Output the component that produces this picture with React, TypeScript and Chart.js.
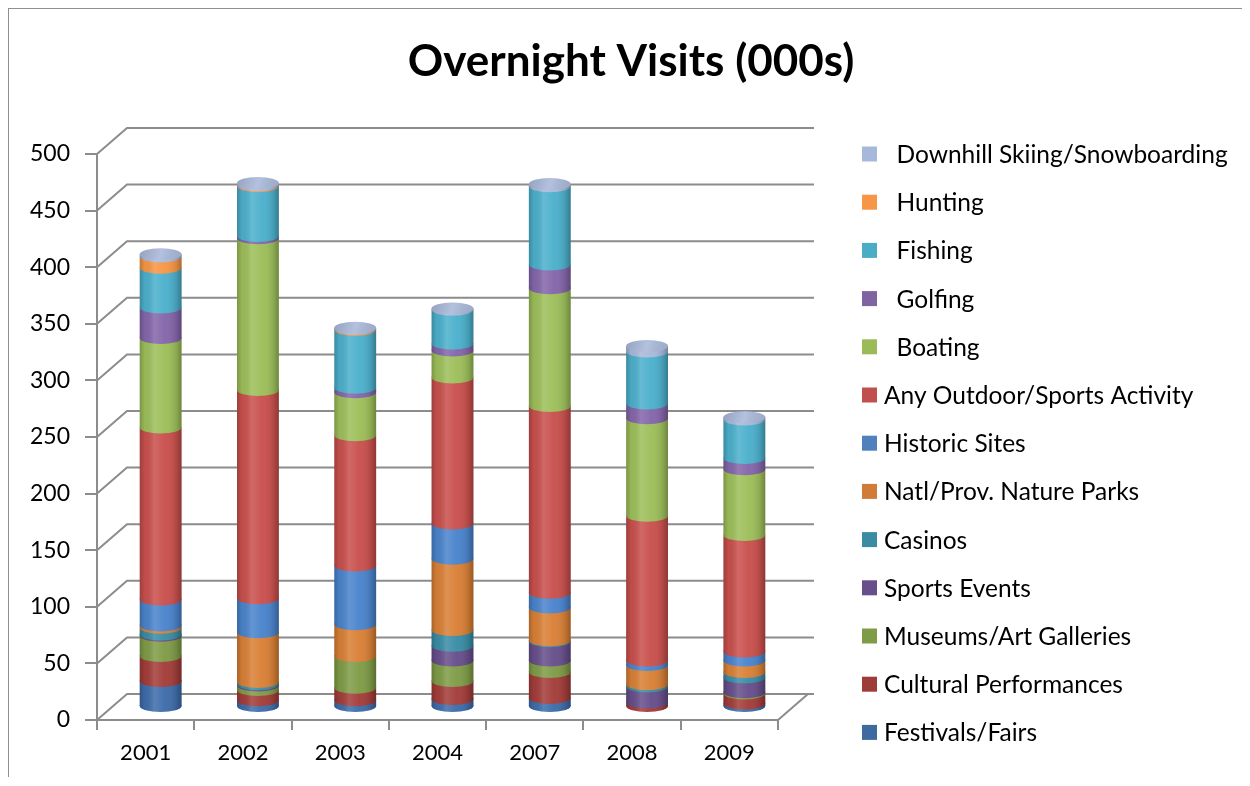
import React, { useEffect, useRef } from 'react';
import { Chart, registerables } from 'chart.js';

Chart.register(...registerables);

// ---------- data (thousands of overnight visits) ----------
const years = ['2001', '2002', '2003', '2004', '2007', '2008', '2009'];

const festivalsFairs = [23, 6, 6, 7, 8, 0, 3];
const culturalPerformances = [22, 9, 11, 16, 23, 4, 9];
const museumsArtGalleries = [18, 4, 28, 18, 10, 0, 1];
const sportsEvents = [1, 1, 0, 13, 17, 14, 13];
const casinos = [6, 2, 0, 14, 1, 2, 5];
const natureParks = [2, 44, 28, 63, 29, 17, 10];
const historicSites = [23, 30, 52, 31, 13, 4, 8];
const anyOutdoor = [152, 184, 115, 129, 165, 128, 103];
const boating = [79, 134, 38, 24, 104, 86, 58];
const golfing = [27, 2, 4, 6, 21, 13, 10];
const fishing = [35, 44, 51, 30, 69, 46, 34];
const hunting = [10, 1, 1, 0, 0, 0, 0];
const downhillSkiing = [2, 2, 1, 1, 2, 5, 2];

const seriesLabels = [
  'Festivals/Fairs',
  'Cultural Performances',
  'Museums/Art Galleries',
  'Sports Events',
  'Casinos',
  'Natl/Prov. Nature Parks',
  'Historic Sites',
  'Any Outdoor/Sports Activity',
  'Boating',
  'Golfing',
  'Fishing',
  'Hunting',
  'Downhill Skiing/Snowboarding',
];
const seriesValues = [
  festivalsFairs, culturalPerformances, museumsArtGalleries, sportsEvents, casinos,
  natureParks, historicSites, anyOutdoor, boating, golfing, fishing, hunting, downhillSkiing,
];
const seriesColors = [
  '#3E6DAA', '#A33D3A', '#7F9C47', '#674F8B', '#3A8DA5', '#D98036', '#4A84CC',
  '#C9504D', '#9DBF5A', '#8466AA', '#4CB0CC', '#F79646', '#A9B9DA',
];
const legendColors = [
  '#3D6A9F', '#9E3C3A', '#7E9B48', '#664F8A', '#3B8CA3', '#D17B38', '#4F81BD',
  '#C0504D', '#9BBB59', '#8064A2', '#4BACC6', '#F79646', '#A7B9DB',
];
const indentedSeries = [8, 9, 10, 11, 12];

const yTickStep = 50;
const yMax = 500;
const titleText = 'Overnight Visits (000s)';

// ---------- layout constants ----------
const FONT = 'Lato';
const CANVAS_W = 1233;
const CANVAS_H = 768;
const GRID = '#8C8C8C';
const DX = 30;
const DY = 26;
const AREA_RIGHT = 769;
const AREA_LEFT = 88;
const PAD_LEFT = 11;
const LEGEND_FONT = 24.5;
const LEGEND_ROW = 48.2;
const SWATCH = 15;
const SWATCH_OFFSET = 84;
const TEXT_OFFSET = 106;
const TEXT_INDENT = 12.5;

const depthPlugin = {
  id: 'depth3d',
  beforeDatasetsDraw(chart: any) {
    const { ctx, chartArea, scales } = chart;
    const ys = scales.y;
    ctx.save();
    ctx.strokeStyle = GRID;
    ctx.lineWidth = 2;
    ctx.beginPath();
    ys.ticks.forEach((t: any) => {
      const py = ys.getPixelForValue(t.value);
      ctx.moveTo(chartArea.left, py);
      ctx.lineTo(chartArea.left + DX, py - DY);
      ctx.lineTo(chartArea.right + DX + 6, py - DY);
    });
    const p0 = ys.getPixelForValue(0);
    ctx.moveTo(chartArea.right, p0);
    ctx.lineTo(chartArea.right + DX, p0 - DY);
    ctx.stroke();
    ctx.restore();
    ctx.save();
    ctx.translate(DX / 2, -DY / 2);
  },
  afterDatasetsDraw(chart: any) {
    const { ctx } = chart;
    const n = chart.data.labels.length;
    const ry = 6;
    for (let i = 0; i < n; i++) {
      const segs: any[] = [];
      chart.data.datasets.forEach((ds: any, di: number) => {
        const v = ds.data[i];
        if (v > 0) {
          const el = chart.getDatasetMeta(di).data[i];
          const p = el.getProps(['x', 'y', 'base', 'width'], true);
          segs.push({ ...p, color: seriesColors[di] });
        }
      });
      if (!segs.length) continue;
      const x = segs[0].x;
      const rx = segs[0].width / 2;
      const base = segs[0].base;
      const top = segs[segs.length - 1].y;
      segs.forEach((s) => {
        ctx.beginPath();
        ctx.moveTo(x - rx, s.base - 1);
        ctx.lineTo(x + rx, s.base - 1);
        ctx.lineTo(x + rx, s.base);
        ctx.ellipse(x, s.base, rx, ry, 0, 0, Math.PI);
        ctx.closePath();
        ctx.fillStyle = s.color;
        ctx.fill();
      });
      ctx.beginPath();
      ctx.moveTo(x - rx, top);
      ctx.lineTo(x - rx, base);
      ctx.ellipse(x, base, rx, ry, 0, Math.PI, 0, true);
      ctx.lineTo(x + rx, top);
      ctx.closePath();
      const g = ctx.createLinearGradient(x - rx, 0, x + rx, 0);
      g.addColorStop(0, 'rgba(0,0,0,0.22)');
      g.addColorStop(0.12, 'rgba(0,0,0,0.04)');
      g.addColorStop(0.35, 'rgba(255,255,255,0.14)');
      g.addColorStop(0.6, 'rgba(255,255,255,0.03)');
      g.addColorStop(0.88, 'rgba(0,0,0,0.12)');
      g.addColorStop(1, 'rgba(0,0,0,0.3)');
      ctx.fillStyle = g;
      ctx.fill();
      ctx.beginPath();
      ctx.ellipse(x, top, rx, ry, 0, 0, Math.PI * 2);
      ctx.fillStyle = segs[segs.length - 1].color;
      ctx.fill();
      const cg = ctx.createLinearGradient(x - rx, top - ry, x + rx, top + ry);
      cg.addColorStop(0, 'rgba(0,0,0,0.12)');
      cg.addColorStop(0.5, 'rgba(255,255,255,0.12)');
      cg.addColorStop(1, 'rgba(0,0,0,0.08)');
      ctx.fillStyle = cg;
      ctx.fill();
    }
    ctx.restore();
  },
};

const sideLegendPlugin = {
  id: 'sideLegend',
  afterDraw(chart: any) {
    const { ctx, chartArea } = chart;
    ctx.save();
    ctx.font = `normal ${LEGEND_FONT}px ${FONT}`;
    ctx.textBaseline = 'middle';
    ctx.textAlign = 'left';
    const n = chart.data.datasets.length;
    for (let k = 0; k < n; k++) {
      const di = n - 1 - k;
      const cy = chartArea.top + k * LEGEND_ROW;
      ctx.fillStyle = legendColors[di];
      ctx.fillRect(chartArea.right + SWATCH_OFFSET, cy - SWATCH / 2, SWATCH, SWATCH);
      ctx.fillStyle = '#000';
      const tx = chartArea.right + TEXT_OFFSET + (indentedSeries.includes(di) ? TEXT_INDENT : 0);
      ctx.fillText(chart.data.datasets[di].label, tx, cy + 1);
    }
    ctx.restore();
  },
};

export default function App() {
  const ref = useRef<HTMLCanvasElement>(null);

  useEffect(() => {
    const canvas = ref.current;
    if (!canvas) return;

    const chart = new Chart(canvas, {
      type: 'bar',
      data: {
        labels: years,
        datasets: seriesLabels.map((label, di) => ({
          label,
          data: seriesValues[di],
          backgroundColor: seriesColors[di],
          borderWidth: 0,
          barPercentage: 0.43,
          categoryPercentage: 1,
        })),
      },
      options: {
        responsive: false,
        animation: false,
        devicePixelRatio: 1,
        events: [],
        layout: { padding: { top: 0, left: PAD_LEFT, right: 0, bottom: 11 } },
        font: { family: FONT },
        plugins: {
          title: {
            display: true,
            text: titleText,
            color: '#000',
            font: { family: FONT, size: 44, weight: 'bold' },
            padding: { top: 26.6, bottom: 65.6 },
          },
          legend: { display: false },
          tooltip: { enabled: false },
        },
        scales: {
          x: {
            stacked: true,
            grid: { offset: true, drawOnChartArea: false, tickLength: 10, color: GRID, lineWidth: 2 },
            border: { display: true, color: GRID, width: 2 },
            ticks: { color: '#000', font: { family: FONT, size: 22 }, padding: 10 },
            afterFit: (s: any) => { s.height = 46; },
          },
          y: {
            stacked: true,
            min: 0,
            max: yMax,
            ticks: { stepSize: yTickStep, color: '#000', font: { family: FONT, size: 23 }, padding: 15 },
            grid: { drawOnChartArea: false, tickLength: 12, color: GRID, lineWidth: 2 },
            border: { display: true, color: GRID, width: 2 },
            afterFit: (s: any) => { s.width = AREA_LEFT - PAD_LEFT; },
          },
          legendSpace: {
            type: 'linear',
            position: 'right',
            display: true,
            grid: { display: false },
            border: { display: false },
            ticks: { display: false },
            afterFit: (s: any) => { s.width = CANVAS_W - AREA_RIGHT; },
          },
        },
      } as any,
      plugins: [depthPlugin, sideLegendPlugin],
    });
    return () => chart.destroy();
  }, []);

  return (
    <div
      style={{
        borderTop: '1px solid #8f8f8f',
        borderLeft: '1px solid #8f8f8f',
        width: CANVAS_W,
        height: CANVAS_H,
      }}
    >
      <canvas
        ref={ref}
        width={CANVAS_W}
        height={CANVAS_H}
        style={{ display: 'block', width: CANVAS_W, height: CANVAS_H }}
      />
    </div>
  );
}
